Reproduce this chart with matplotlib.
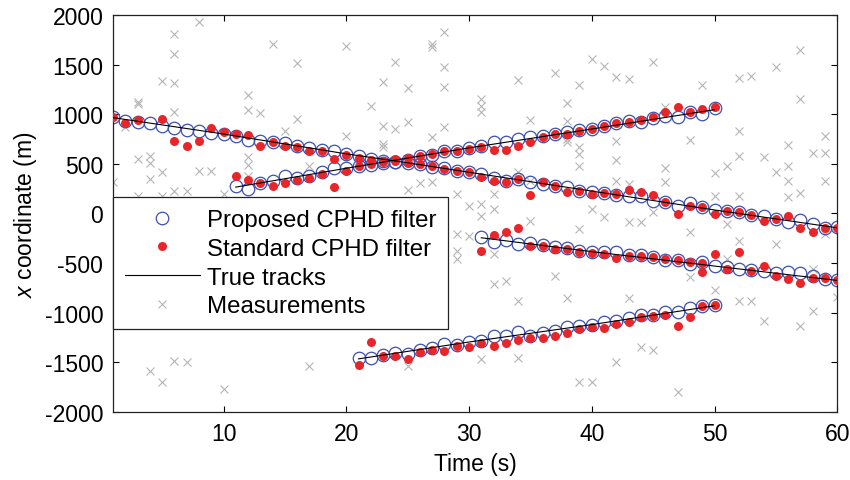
import numpy as np
import matplotlib.pyplot as plt

plt.rcParams['font.family'] = ['Liberation Sans', 'DejaVu Sans']
plt.rcParams['mathtext.fontset'] = 'custom'
plt.rcParams['mathtext.it'] = 'Liberation Sans:italic'
plt.rcParams['mathtext.rm'] = 'Liberation Sans'
plt.rcParams['axes.unicode_minus'] = False

# true tracks (knots)
true_a_t = [1, 10, 20, 25, 30, 40, 50, 60]
true_a_x = [965, 800, 600, 510, 415, 225, 35, -145]
true_b_t = [11, 20, 30, 40, 50]
true_b_x = [265, 455, 660, 850, 1045]
true_c_t = [31, 40, 50, 60]
true_c_x = [-245, -385, -530, -675]
true_d_t = [21, 30, 40, 50]
true_d_x = [-1465, -1295, -1120, -930]

# proposed CPHD estimates
prop_a = [969, 935, 919, 912, 878, 861, 844, 828, 815, 805, 784, 743, 733, 723, 705,
          683, 655, 635, 627, 599, 578, 545, 532, 522, 512, 499, 468, 462, 431, 415,
          398, 360, 330, 350, 314, 297, 280, 264, 230, 220, 207, 186, 173, 173, 129,
          119, 79, 106, 62, 38, 28, 18, -12, -22, -55, -83, -62, -106, -149, -139]
prop_b = [280, 247, 304, 331, 375, 358, 381, 415, 458, 462, 478, 490, 505, 520, 540,
          582, 589, 633, 633, 657, 683, 717, 717, 751, 768, 784, 801, 818, 838, 851,
          885, 909, 929, 919, 959, 985, 970, 1020, 1005, 1060]
prop_c = [-240, -290, -264, -307, -297, -317, -341, -351, -374, -391, -391, -391, -418, -418, -441,
          -465, -465, -509, -492, -526, -542, -559, -566, -576, -600, -592, -600, -626, -660, -667]
prop_d = [-1459, -1459, -1426, -1406, -1416, -1372, -1359, -1315, -1325, -1298, -1281, -1237, -1237, -1197, -1231,
          -1204, -1181, -1147, -1137, -1123, -1096, -1080, -1056, -1023, -1023, -989, -989, -955, -929, -922]

# standard CPHD estimates
std_a = [969, 915, 945, np.nan, 952, 733, 683, 733, 858, 824, 801, 791, 683, 717, 683,
         667, 633, 625, 552, 589, 560, 535, 525, 530, 505, 499, 482, 448, 431, 415,
         365, 330, 314, 348, 186, 320, 280, 220, 230, 196, 207, 196, 240, 213, 186,
         119, -5, 72, 62, -5, 28, 12, -15, -72, -55, -28, -149, -183, -149, -149]
std_b = [381, 338, 304, 280, 304, 338, 358, 398, 270, 425, 482, 500, 520, 545, 560,
         582, 596, 633, 633, 650, 667, 643, 643, 683, 720, 770, 801, 801, 835, 851,
         878, 912, 925, 945, 969, 1020, 1070, 1020, 1053, 1070]
std_c = [-374, -217, -183, -146, -324, -324, -358, -358, -385, -398, -408, -451, -425, -425, -441,
         -458, -465, -485, -500, -410, -559, -391, -576, -525, -626, -663, -700, -650, -653, -667]
std_d = [-1526, -1291, -1433, -1433, -1466, -1399, -1372, -1382, -1338, -1348, -1305, -1332, -1305, -1271, -1258,
         -1258, -1231, -1204, -1164, -1147, -1157, -1113, -1090, -1046, -1036, -1023, -1130, -1046, -929, -922]
std_extra_t = [49]
std_extra_x = [-590]

# clutter / measurements
meas_t = [1, 1, 2, 3, 3, 3, 3, 4, 4, 4, 4, 5, 5, 5, 5, 6, 6, 6, 6, 6, 6, 7, 7,
          8, 8, 9, 10, 10, 12, 12, 12, 12, 12, 13, 14, 15, 16, 16, 17, 17, 20, 20,
          22, 23, 23, 23, 23, 24, 24, 25, 25, 25, 25, 26, 27, 27, 27, 27,
          28, 28, 28, 28, 29, 29, 29, 29, 30, 30, 31, 31, 31, 31, 31, 31,
          32, 32, 32, 32, 33, 34, 34, 34, 34, 35, 35, 35, 37, 37,
          38, 38, 38, 38, 38, 39, 39, 39, 39, 39, 39, 40, 40, 40, 41, 41,
          42, 42, 42, 42, 42, 43, 43, 43, 43, 44, 44, 45, 45, 45, 46, 46, 46,
          47, 48, 48, 48, 49, 50, 50, 50, 51, 51, 51, 52, 52, 52, 52, 52, 52,
          53, 53, 54, 54, 55, 55, 55, 56, 56, 56, 56, 57, 57, 57, 57,
          58, 58, 58, 59, 59, 59, 59, 60]
meas_x = [320, -962, 868, 1105, 1125, 545, 179, 582, 512, 348, -1584, 415, 1338, 179, -1694,
          1808, 1607, 1315, 1020, 225, -1483, 230, -1499,
          1926, 431, 431, 195, -1768, 1195, 1045, 566, 487, 380, 1015, 1708, 834, 1520, 950, 480, -1533, 1691, 778,
          1080, 1328, 878, 700, 667, 1529, 851, 1261, 919, 235, -1533, 310, 320, 1708, 1675, 768,
          1832, 1473, 1271, 868, 196, -207, -375, -458, 79, -224, 1154, 1086, 1020, 96, -22, -1462,
          196, 45, -408, -710, -677, 1348, 415, -878, -1459, 945, 330, -72, 1416, -626,
          1113, 935, 751, 717, -850, 1295, 667, 599, 482, -156, -1694, 1557, 45, -1694, 1489, -38,
          1372, 733, 542, 330, -1496, 1355, 297, -89, -850, -89, -1348, 1529, 12, -1372, 1070, 455, 320,
          -1801, 743, -189, -643, 1295, 408, 179, -770, 475, -106, -458, 1362, 834, 582, 179, -274, -878,
          1382, -878, 566, -1080, 1473, 415, -307, 690, 482, 330, 163, 1650, 1153, 205, -1133,
          610, -559, -979, 778, 610, 330, -207, -844]

fig = plt.figure(figsize=(8.5, 4.81), dpi=100)
ax = fig.add_axes([0.133, 0.1414, 0.852, 0.8256])

circ_col = '#3d4fb0'
red_col = '#e8262a'

ax.plot(meas_t, meas_x, linestyle='none', marker='x', ms=6, mew=0.8, color='#b5b5b5',
        label='Measurements', zorder=1)

ax.plot(np.arange(1, 61), prop_a, 'o', mfc='none', mec=circ_col, ms=9, mew=0.9,
        label='Proposed CPHD filter', zorder=2)
ax.plot(np.arange(11, 51), prop_b, 'o', mfc='none', mec=circ_col, ms=9, mew=0.9, zorder=2)
ax.plot(np.arange(31, 61), prop_c, 'o', mfc='none', mec=circ_col, ms=9, mew=0.9, zorder=2)
ax.plot(np.arange(21, 51), prop_d, 'o', mfc='none', mec=circ_col, ms=9, mew=0.9, zorder=2)

ax.plot(np.arange(1, 61), std_a, 'o', color=red_col, mec='none', ms=6.5,
        label='Standard CPHD filter', zorder=3)
ax.plot(np.arange(11, 51), std_b, 'o', color=red_col, mec='none', ms=6.5, zorder=3)
ax.plot(np.arange(31, 61), std_c, 'o', color=red_col, mec='none', ms=6.5, zorder=3)
ax.plot(np.arange(21, 51), std_d, 'o', color=red_col, mec='none', ms=6.5, zorder=3)
ax.plot(std_extra_t, std_extra_x, 'o', color=red_col, mec='none', ms=6.5, zorder=3)

ax.plot(true_a_t, true_a_x, '-', color='black', lw=0.8, label='True tracks', zorder=4)
ax.plot(true_b_t, true_b_x, '-', color='black', lw=0.8, zorder=4)
ax.plot(true_c_t, true_c_x, '-', color='black', lw=0.8, zorder=4)
ax.plot(true_d_t, true_d_x, '-', color='black', lw=0.8, zorder=4)

ax.set_xlim(1, 60)
ax.set_ylim(-2000, 2000)
ax.set_xticks([10, 20, 30, 40, 50, 60])
ax.set_yticks(np.arange(-2000, 2001, 500))
ax.tick_params(direction='in', top=True, right=True, length=4.5, width=0.8,
               labelsize=16.5, pad=7)
for s in ax.spines.values():
    s.set_linewidth(0.9)
    s.set_color('#222222')

ax.set_xlabel('Time (s)', fontsize=16.5, labelpad=5)
ax.set_ylabel(r'$x$ coordinate (m)', fontsize=16.5, labelpad=4)

handles, labels = ax.get_legend_handles_labels()
order = [1, 2, 3, 0]
leg = ax.legend([handles[i] for i in order], [labels[i] for i in order],
                loc='upper left', bbox_to_anchor=(0, 0.541), borderaxespad=0,
                fontsize=17.3, handlelength=3.1, handletextpad=0.3,
                labelspacing=0.28, borderpad=0.5, fancybox=False,
                framealpha=1, edgecolor='#222222')
leg.get_frame().set_linewidth(0.9)
leg.set_zorder(10)

plt.savefig('out.png', dpi=100)
